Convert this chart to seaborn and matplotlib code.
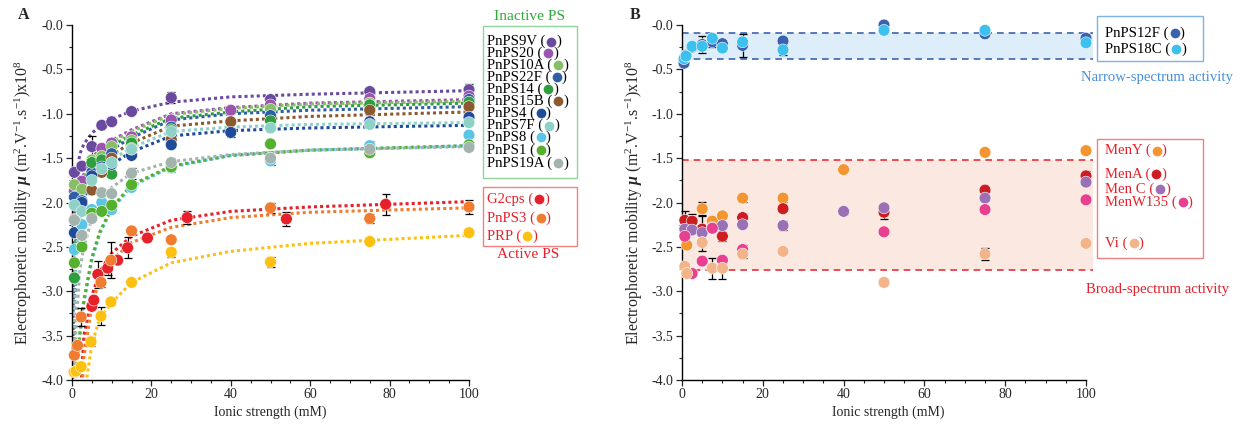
import numpy as np
import pandas as pd
import matplotlib
matplotlib.use("Agg")
import matplotlib.pyplot as plt
import seaborn as sns
from matplotlib.lines import Line2D
from matplotlib.patches import Rectangle
from matplotlib.ticker import MultipleLocator, FixedLocator

sns.set_style("ticks")
plt.rcParams['font.family'] = ['Liberation Serif', 'DejaVu Serif']
plt.rcParams['mathtext.fontset'] = 'custom'
plt.rcParams['mathtext.rm'] = 'Liberation Serif'
plt.rcParams['mathtext.it'] = 'Liberation Serif:italic'
plt.rcParams['mathtext.bf'] = 'Liberation Serif:bold:italic'

# ---------------- Panel A data ----------------
A_NAMES = ["PnPS9V", "PnPS20", "PnPS10A", "PnPS22F", "PnPS14", "PnPS15B", "PnPS4",
           "PnPS7F", "PnPS8", "PnPS1", "PnPS19A", "G2cps", "PnPS3", "PRP"]
A_COLORS = ["#6a4a9e", "#9b55b0", "#86c063", "#2f5ea8", "#2e9e3e", "#8c5a2e", "#1f4b9b",
            "#8ed1c6", "#5bc5e6", "#55b02e", "#a3b3ad", "#e62129", "#f07c30", "#fdc010"]

X_STD = [0.6, 2.5, 5, 7.5, 10, 15, 25, 50, 75, 100]
X_40 = [0.6, 2.5, 5, 7.5, 10, 15, 25, 40, 75, 100]

PN9V_X = X_STD
PN9V_Y = [-1.66, -1.59, -1.37, -1.13, -1.09, -0.975, -0.82, -0.84, -0.75, -0.73]
PN9V_E = [0.03, 0.03, 0.12, 0.02, 0.02, 0.02, 0.06, 0.03, 0.03, 0.07]
PN20_X = [0.6, 2.5, 5, 7.5, 10, 15, 25, 40, 50, 75, 100]
PN20_Y = [-1.87, -1.76, -1.60, -1.39, -1.33, -1.26, -1.07, -0.96, -0.90, -0.83, -0.80]
PN20_E = [0.03, 0.03, 0.03, 0.03, 0.03, 0.03, 0.05, 0.03, 0.03, 0.03, 0.03]
PN10A_X = X_STD
PN10A_Y = [-1.80, -1.85, -1.52, -1.48, -1.37, -1.30, -1.16, -0.95, -0.88, -0.86]
PN10A_E = [0.02] * 10
PN22F_X = X_STD
PN22F_Y = [-1.94, -1.98, -1.66, -1.54, -1.45, -1.37, -1.15, -1.02, -0.92, -0.84]
PN22F_E = [0.02] * 10
PN14_X = X_STD
PN14_Y = [-2.85, -2.05, -1.55, -1.52, -1.68, -1.33, -1.18, -1.08, -0.90, -0.87]
PN14_E = [0.02] * 10
PN15B_X = X_40
PN15B_Y = [-2.19, -2.03, -1.86, -1.66, -1.50, -1.39, -1.29, -1.09, -0.96, -0.92]
PN15B_E = [0.02] * 10
PN4_X = X_40
PN4_Y = [-2.34, -2.0, -1.70, -1.60, -1.57, -1.47, -1.35, -1.21, -1.09, -1.04]
PN4_E = [0.02, 0.02, 0.02, 0.02, 0.02, 0.02, 0.02, 0.05, 0.02, 0.02]
PN7F_X = X_STD
PN7F_Y = [-2.03, -2.1, -1.75, -1.62, -1.55, -1.40, -1.20, -1.16, -1.12, -1.10]
PN7F_E = [0.02] * 10
PN8_X = X_STD
PN8_Y = [-2.53, -2.25, -2.08, -2.0, -2.08, -1.83, -1.61, -1.53, -1.36, -1.24]
PN8_E = [0.02, 0.02, 0.02, 0.02, 0.02, 0.02, 0.05, 0.05, 0.05, 0.02]
PN1_X = X_STD
PN1_Y = [-2.68, -2.5, -2.12, -2.10, -2.03, -1.80, -1.60, -1.34, -1.44, -1.35]
PN1_E = [0.02] * 10
PN19A_X = X_STD
PN19A_Y = [-2.2, -2.37, -2.18, -1.89, -1.90, -1.67, -1.55, -1.50, -1.40, -1.38]
PN19A_E = [0.02, 0.02, 0.02, 0.02, 0.02, 0.06, 0.05, 0.02, 0.02, 0.02]
G2_X = [5, 5.5, 6.5, 9, 11.5, 14, 19, 29, 54, 79]
G2_Y = [-3.17, -3.1, -2.81, -2.74, -2.65, -2.51, -2.40, -2.17, -2.185, -2.02]
G2_E = [0.03, 0.03, 0.15, 0.08, 0.03, 0.12, 0.03, 0.07, 0.08, 0.12]
PN3_X = [0.6, 1.4, 2.3, 7.3, 9.8, 15, 25, 50, 75, 100]
PN3_Y = [-3.72, -3.61, -3.29, -2.90, -2.65, -2.32, -2.42, -2.06, -2.18, -2.05]
PN3_E = [0.03, 0.03, 0.10, 0.05, 0.20, 0.03, 0.03, 0.06, 0.05, 0.08]
PRP_X = [0.5, 1, 2.3, 4.8, 7.3, 9.8, 15, 25, 50, 75, 100]
PRP_Y = [-3.91, -3.9, -3.85, -3.57, -3.28, -3.12, -2.9, -2.56, -2.67, -2.44, -2.34]
PRP_E = [0.02, 0.02, 0.02, 0.05, 0.10, 0.03, 0.02, 0.05, 0.06, 0.02, 0.02]

# fitted curves on a common grid
FIT_X = [0.15, 0.3, 0.6, 1, 2, 3, 5, 7, 10, 15, 25, 40, 60, 100]
FIT_9V = [-4.4, -3.2, -2.1, -1.72, -1.45, -1.34, -1.22, -1.14, -1.06, -0.97, -0.87, -0.81, -0.78, -0.74]
FIT_20 = [-4.6, -4.0, -2.9, -2.35, -1.85, -1.68, -1.5, -1.4, -1.3, -1.18, -1.0, -0.93, -0.88, -0.84]
FIT_10A = [-4.6, -4.0, -2.95, -2.4, -1.88, -1.71, -1.52, -1.42, -1.32, -1.2, -1.01, -0.94, -0.89, -0.86]
FIT_22F = [-4.6, -4.1, -3.05, -2.5, -1.97, -1.79, -1.6, -1.5, -1.4, -1.27, -1.07, -1.0, -0.96, -0.92]
FIT_14 = [-4.6, -4.1, -3.0, -2.45, -1.93, -1.75, -1.56, -1.46, -1.36, -1.24, -1.05, -0.98, -0.92, -0.88]
FIT_15B = [-4.6, -4.2, -3.1, -2.55, -2.03, -1.85, -1.66, -1.56, -1.46, -1.33, -1.14, -1.08, -1.03, -0.98]
FIT_4 = [-4.6, -4.3, -3.2, -2.65, -2.13, -1.95, -1.77, -1.67, -1.57, -1.43, -1.25, -1.19, -1.16, -1.13]
FIT_7F = [-4.6, -4.2, -3.15, -2.6, -2.08, -1.9, -1.72, -1.62, -1.52, -1.38, -1.2, -1.15, -1.12, -1.10]
FIT_8 = [-4.6, -4.6, -4.6, -4.05, -3.5, -3.13, -2.65, -2.35, -2.08, -1.82, -1.6, -1.47, -1.41, -1.36]
FIT_1 = [-4.6, -4.6, -4.6, -4.0, -3.45, -3.1, -2.62, -2.33, -2.06, -1.8, -1.59, -1.47, -1.41, -1.36]
FIT_19A = [-4.6, -4.6, -4.1, -3.4, -2.75, -2.5, -2.18, -2.0, -1.83, -1.67, -1.54, -1.46, -1.41, -1.37]
FIT_G2 = [-4.6, -4.6, -4.6, -4.6, -4.25, -3.5, -3.05, -2.78, -2.57, -2.38, -2.2, -2.1, -2.05, -1.99]
FIT_3 = [-4.6, -4.6, -4.6, -4.6, -4.5, -3.75, -3.15, -2.87, -2.65, -2.45, -2.28, -2.17, -2.11, -2.06]
FIT_PRP = [-4.6, -4.6, -4.6, -4.6, -4.6, -4.2, -3.6, -3.3, -3.13, -2.9, -2.68, -2.55, -2.46, -2.37]

# ---------------- Panel B data ----------------
B_NAMES = ["PnPS12F", "PnPS18C", "MenY", "MenA", "Men C", "MenW135", "Vi"]
B_COLORS = ["#3a62ae", "#3cc0ee", "#f39530", "#cc1d22", "#9b70b5", "#e8408e", "#f4b48a"]

PN12F_X = [0.5, 1, 2.5, 5, 7.5, 10, 15, 25, 50, 75, 100]
PN12F_Y = [-0.43, -0.34, -0.25, -0.22, -0.19, -0.21, -0.23, -0.18, 0.0, -0.10, -0.15]
PN12F_E = [0.02, 0.02, 0.02, 0.10, 0.06, 0.02, 0.13, 0.02, 0.02, 0.02, 0.05]
PN18C_X = [0.5, 1, 2.5, 5, 7.5, 10, 15, 25, 50, 75, 100]
PN18C_Y = [-0.38, -0.35, -0.24, -0.24, -0.15, -0.26, -0.19, -0.28, -0.06, -0.06, -0.20]
PN18C_E = [0.02, 0.02, 0.02, 0.02, 0.02, 0.02, 0.02, 0.06, 0.02, 0.02, 0.02]
MENY_X = [0.7, 1.2, 2.5, 5, 7.5, 10, 15, 25, 40, 75, 100]
MENY_Y = [-2.37, -2.48, -2.21, -2.07, -2.21, -2.15, -1.95, -1.95, -1.63, -1.435, -1.416]
MENY_E = [0.02, 0.02, 0.02, 0.07, 0.02, 0.02, 0.04, 0.04, 0.02, 0.02, 0.02]
MENA_X = [0.7, 2.5, 5, 7.5, 10, 15, 25, 50, 75, 100]
MENA_Y = [-2.2, -2.21, -2.30, -2.28, -2.38, -2.17, -2.07, -2.11, -1.86, -1.70]
MENA_E = [0.10, 0.08, 0.15, 0.05, 0.05, 0.04, 0.02, 0.08, 0.02, 0.05]
MENC_X = [0.7, 2.5, 5, 7.5, 10, 15, 25, 40, 50, 75, 100]
MENC_Y = [-2.30, -2.31, -2.34, -2.29, -2.26, -2.25, -2.26, -2.10, -2.06, -1.95, -1.77]
MENC_E = [0.03, 0.03, 0.03, 0.03, 0.03, 0.03, 0.05, 0.03, 0.03, 0.03, 0.03]
MENW_X = [0.7, 2.5, 5, 7.5, 10, 15, 50, 75, 100]
MENW_Y = [-2.38, -2.80, -2.66, -2.29, -2.65, -2.53, -2.33, -2.08, -1.97]
MENW_E = [0.02, 0.02, 0.02, 0.02, 0.02, 0.05, 0.02, 0.02, 0.02]
VI_X = [0.7, 1.2, 5, 7.5, 10, 15, 25, 50, 75, 100]
VI_Y = [-2.72, -2.80, -2.45, -2.74, -2.74, -2.58, -2.55, -2.90, -2.58, -2.46]
VI_E = [0.03, 0.03, 0.10, 0.12, 0.12, 0.05, 0.02, 0.02, 0.07, 0.02]

NARROW_BAND = [-0.387, -0.094]
BROAD_BAND = [-2.76, -1.52]
BAND_X = [0, 101.8]

Y_TICKS = [0.0, -0.5, -1.0, -1.5, -2.0, -2.5, -3.0, -3.5, -4.0]
Y_TICKLABELS = ["-0.0", "-0.5", "-1.0", "-1.5", "-2.0", "-2.5", "-3.0", "-3.5", "-4.0"]
X_TICKS = [0, 20, 40, 60, 80, 100]

# ---------------- build tables ----------------
A_PTS = [(PN9V_X, PN9V_Y, PN9V_E), (PN20_X, PN20_Y, PN20_E), (PN10A_X, PN10A_Y, PN10A_E),
         (PN22F_X, PN22F_Y, PN22F_E), (PN14_X, PN14_Y, PN14_E), (PN15B_X, PN15B_Y, PN15B_E),
         (PN4_X, PN4_Y, PN4_E), (PN7F_X, PN7F_Y, PN7F_E), (PN8_X, PN8_Y, PN8_E),
         (PN1_X, PN1_Y, PN1_E), (PN19A_X, PN19A_Y, PN19A_E), (G2_X, G2_Y, G2_E),
         (PN3_X, PN3_Y, PN3_E), (PRP_X, PRP_Y, PRP_E)]
A_FITS = [FIT_9V, FIT_20, FIT_10A, FIT_22F, FIT_14, FIT_15B, FIT_4, FIT_7F, FIT_8, FIT_1,
          FIT_19A, FIT_G2, FIT_3, FIT_PRP]
B_PTS = [(PN12F_X, PN12F_Y, PN12F_E), (PN18C_X, PN18C_Y, PN18C_E), (MENY_X, MENY_Y, MENY_E),
         (MENA_X, MENA_Y, MENA_E), (MENC_X, MENC_Y, MENC_E), (MENW_X, MENW_Y, MENW_E),
         (VI_X, VI_Y, VI_E)]

def to_df(names, pts):
    rows = []
    for n, (xs, ys, es) in zip(names, pts):
        for x, y, e in zip(xs, ys, es):
            rows.append({"series": n, "x": x, "y": y, "err": e})
    return pd.DataFrame(rows)

dfA = to_df(A_NAMES, A_PTS)
dfB = to_df(B_NAMES, B_PTS)
fitA = pd.DataFrame([{"series": n, "x": x, "y": y}
                     for n, f in zip(A_NAMES, A_FITS) for x, y in zip(FIT_X, f)])
palA = dict(zip(A_NAMES, A_COLORS))
palB = dict(zip(B_NAMES, B_COLORS))

W, H = 1243, 425
fig = plt.figure(figsize=(W / 100, H / 100), dpi=100)
axA = fig.add_axes([72 / W, 45 / H, 397 / W, 355 / H])
axB = fig.add_axes([682 / W, 45 / H, 404 * 1.02 / W, 355 / H])

FS = 10
LFS = 10.6
YLFS = 11.5
ylabel = r"Electrophoretic mobility $\mathbf{\mu}$ (m$^{2}$.V$^{-1}$.s$^{-1}$)x10$^{8}$"

for ax in (axA, axB):
    ax.set_ylim(-4.0, 0.0)
    ax.yaxis.set_major_locator(FixedLocator(Y_TICKS))
    ax.set_yticklabels(Y_TICKLABELS)
    ax.yaxis.set_minor_locator(MultipleLocator(0.25))
    ax.xaxis.set_major_locator(FixedLocator(X_TICKS))
    ax.xaxis.set_minor_locator(MultipleLocator(5))
    ax.tick_params(which='major', direction='out', length=4, width=0.9, labelsize=FS, pad=2)
    ax.tick_params(which='minor', direction='out', length=2, width=0.8)
    for s in ('top', 'right'):
        ax.spines[s].set_visible(False)
    for s in ('left', 'bottom'):
        ax.spines[s].set_linewidth(1.0)
        ax.spines[s].set_color('black')
    ax.set_facecolor('white')

axA.set_xlim(0, 100)
axB.set_xlim(0, 102)
axB.spines['bottom'].set_bounds(0, 100)
axB.xaxis.set_minor_locator(FixedLocator(list(range(0, 101, 5))))

# ---- Panel A ----
sns.lineplot(data=fitA, x="x", y="y", hue="series", palette=palA, ax=axA, legend=False,
             estimator=None, sort=True, lw=2.2, linestyle=(0, (1, 1.0)), zorder=1)
for n, (xs, ys, es) in zip(A_NAMES, A_PTS):
    axA.errorbar(xs, ys, yerr=es, fmt='none', ecolor='black', elinewidth=0.9,
                 capsize=3, capthick=0.9, zorder=2, clip_on=False)
sns.scatterplot(data=dfA, x="x", y="y", hue="series", palette=palA, ax=axA, legend=False,
                s=72, edgecolor='white', linewidth=0.4, zorder=3, clip_on=False)

# ---- Panel B ----
axB.fill_between(BAND_X, NARROW_BAND[0], NARROW_BAND[1], color="#ddedf9", lw=0, zorder=0)
axB.fill_between(BAND_X, BROAD_BAND[0], BROAD_BAND[1], color="#fbe8e1", lw=0, zorder=0)
for yv in NARROW_BAND:
    axB.plot(BAND_X, [yv, yv], color="#3b64b0", lw=1.2, dashes=(4, 3), zorder=1)
for yv in BROAD_BAND:
    axB.plot(BAND_X, [yv, yv], color="#e8303a", lw=1.2, dashes=(4, 3), zorder=1)
for n, (xs, ys, es) in zip(B_NAMES, B_PTS):
    axB.errorbar(xs, ys, yerr=es, fmt='none', ecolor='black', elinewidth=0.9,
                 capsize=3, capthick=0.9, zorder=2, clip_on=False)
sns.scatterplot(data=dfB, x="x", y="y", hue="series", palette=palB, ax=axB, legend=False,
                s=72, edgecolor='white', linewidth=0.4, zorder=3, clip_on=False)

for ax in (axA, axB):
    ax.set_xlabel("Ionic strength (mM)", fontsize=FS, labelpad=3)
    ax.set_ylabel(ylabel, fontsize=YLFS)
axA.yaxis.set_label_coords(-38 / 397, 0.5)
axB.yaxis.set_label_coords(-37 / 412, 0.5)

# ---------------- legends as text boxes ----------------
renderer = fig.canvas.get_renderer()

def fx(px):
    return px / W

def fy(py):
    return 1 - py / H

def entry(px, py, label, color, tcolor):
    t = fig.text(fx(px), fy(py), label + " (", color=tcolor, fontsize=LFS, va='center', ha='left')
    bb = t.get_window_extent(renderer=renderer)
    mx = bb.x1 + 6
    fig.add_artist(Line2D([mx / W], [fy(py)], marker='o', ms=7.0, color=color, mec='none',
                          transform=fig.transFigure))
    fig.text((mx + 5) / W, fy(py), ")", color=tcolor, fontsize=LFS, va='center', ha='left')

def box(x0, y0, x1, y1, ec):
    fig.add_artist(Rectangle((fx(x0), fy(y1)), (x1 - x0) / W, (y1 - y0) / H, fill=False,
                             ec=ec, lw=1.0, transform=fig.transFigure))

GREEN_T = "#2eaa3a"
RED_T = "#e8202a"
BLUE_T = "#4a90d9"

fig.text(fx(529), fy(17), "Inactive PS", color=GREEN_T, fontsize=LFS + 0.5, ha='center', va='center')
box(483, 26, 577, 178, "#8fd49a")
ys_inactive = [41.7, 53.3, 65, 77.3, 89.3, 101, 113.3, 125.7, 137.3, 150, 163.3]
for i, n in enumerate(A_NAMES[:11]):
    entry(487, ys_inactive[i], n, palA[n], "black")
box(483, 187, 577, 246, "#f08080")
for py, n in zip([199, 218, 236], A_NAMES[11:]):
    entry(487, py, n, palA[n], RED_T)
fig.text(fx(528), fy(254), "Active PS", color=RED_T, fontsize=LFS + 0.5, ha='center', va='center')

box(1097, 16, 1203, 61, "#7fb2e5")
entry(1105, 33.3, "PnPS12F", palB["PnPS12F"], "black")
entry(1105, 49.3, "PnPS18C", palB["PnPS18C"], "black")
fig.text(fx(1157), fy(78), "Narrow-spectrum activity", color=BLUE_T, fontsize=LFS, ha='center', va='center')

box(1097, 139, 1203, 258, "#f08080")
for py, n in zip([150.7, 174.3, 189, 202.3, 243.3], B_NAMES[2:]):
    entry(1105, py, n, palB[n], RED_T)
fig.text(fx(1157), fy(289), "Broad-spectrum activity", color=RED_T, fontsize=LFS, ha='center', va='center')

fig.text(fx(18), fy(15), "A", fontsize=FS + 1.5, fontweight='bold', ha='left', va='center')
fig.text(fx(630), fy(15), "B", fontsize=FS + 1.5, fontweight='bold', ha='left', va='center')

fig.savefig("out.png", dpi=100, facecolor='white')
